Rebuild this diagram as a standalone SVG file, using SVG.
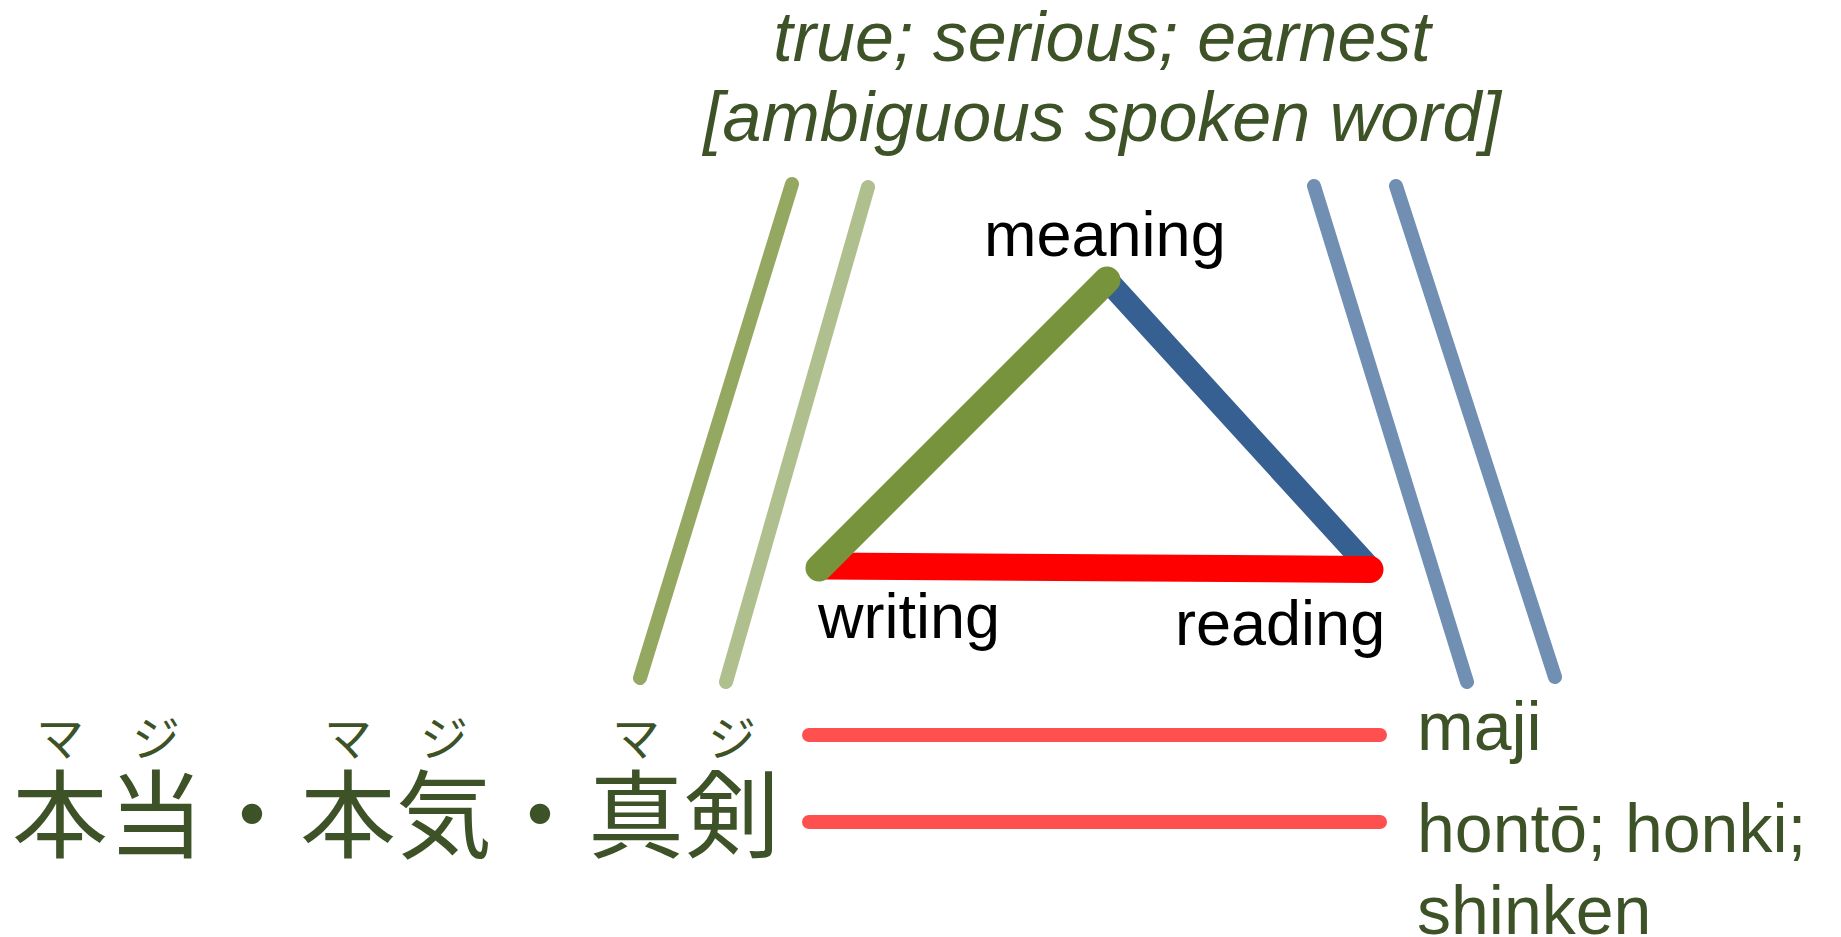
<svg xmlns="http://www.w3.org/2000/svg" width="1841" height="937" viewBox="0 0 1841 937">
<style>
.ol{fill:#3e5228;font-family:"Liberation Sans",Arial,sans-serif}
.it{font-style:italic;font-size:70px}
.lab{fill:#000;font-family:"Liberation Sans",Arial,sans-serif;font-size:63px}
.jp{fill:#3e5228;font-family:"Noto Sans CJK JP","Noto Sans CJK SC",sans-serif}
.k{font-size:96px}
.r{font-size:48px;text-anchor:middle}
.rom{font-size:68px}
line{stroke-linecap:round;fill:none}
</style>
<rect width="1841" height="937" fill="#fff"/>
<g id="meaning-gloss">
<text class="ol it" x="1102" y="61" text-anchor="middle">true; serious; earnest</text>
<text class="ol it" x="1102" y="141" text-anchor="middle">[ambiguous spoken word]</text>
</g>
<g id="connectors">
<line x1="792" y1="184" x2="640" y2="678" stroke="#95a862" stroke-width="14"/>
<line x1="868" y1="187" x2="726" y2="682" stroke="#afbf8e" stroke-width="14"/>
<line x1="1314" y1="186" x2="1467" y2="682" stroke="#708fb3" stroke-width="14"/>
<line x1="1396" y1="186" x2="1555" y2="677" stroke="#708fb3" stroke-width="14"/>
<line x1="1107" y1="280" x2="1368" y2="566" stroke="#376092" stroke-width="23"/>
<line x1="824" y1="566" x2="1370" y2="569.5" stroke="#ff0000" stroke-width="27"/>
<line x1="819" y1="568" x2="1107" y2="280" stroke="#77933c" stroke-width="27"/>
<line x1="809" y1="735" x2="1380" y2="735" stroke="#ff5050" stroke-width="14"/>
<line x1="809" y1="822" x2="1380" y2="822" stroke="#ff5050" stroke-width="14"/>
</g>
<g id="triangle-labels">
<text class="lab" x="984" y="256">meaning</text>
<text class="lab" x="818" y="638">writing</text>
<text class="lab" x="1175" y="645">reading</text>
</g>
<g id="kanji">
<text class="jp r" x="60" y="756">マ</text>
<text class="jp r" x="156" y="756">ジ</text>
<text class="jp r" x="348" y="756">マ</text>
<text class="jp r" x="444" y="756">ジ</text>
<text class="jp r" x="636" y="756">マ</text>
<text class="jp r" x="732" y="756">ジ</text>
<text class="jp k" x="12" y="850">本当・本気・真剣</text>
</g>
<g id="readings">
<text class="ol rom" x="1417" y="750">maji</text>
<text class="ol rom" x="1417" y="852">hontō; honki;<tspan x="1417" y="934">shinken</tspan></text>
</g>
</svg>
